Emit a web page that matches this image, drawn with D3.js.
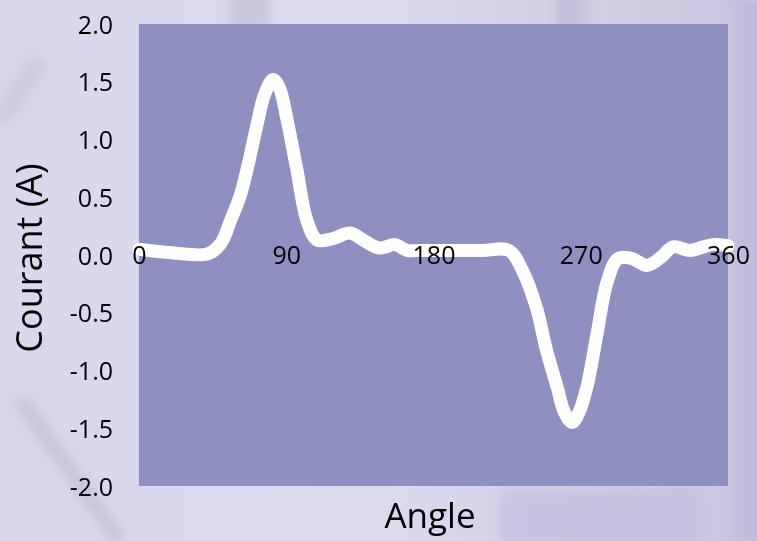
<!DOCTYPE html>
<html>
<head>
<meta charset="utf-8">
<script src="https://cdn.jsdelivr.net/npm/d3@7"></script>
<style>
  body { margin: 0; background: #d6d4e9; }
  text { font-family: "Open Sans", "DejaVu Sans", sans-serif; fill: #000; }
</style>
</head>
<body>
<script>
// angle (deg) and current (A)
var angles = [0, 20, 42, 50, 56, 62, 67, 72, 77, 82, 86, 90.5, 96.5, 102.6, 108.8, 118, 129, 138, 147, 156.5, 163.8, 172, 192, 210, 226, 234.6, 243, 249, 255.5, 260, 264.7, 269, 273.8, 280, 286, 292.8, 301, 310.5, 319, 326.5, 336.8, 345, 350.8, 360];
var courant = [0.05, 0.02, 0.01, 0.1, 0.3, 0.52, 0.8, 1.12, 1.4, 1.52, 1.44, 1.17, 0.74, 0.30, 0.13, 0.14, 0.19, 0.12, 0.06, 0.09, 0.04, 0.04, 0.04, 0.04, 0.04, -0.14, -0.46, -0.82, -1.14, -1.36, -1.45, -1.36, -1.14, -0.68, -0.24, -0.03, -0.03, -0.09, -0.02, 0.07, 0.04, 0.07, 0.09, 0.08];
var xTicks = [0, 90, 180, 270, 360];
var yTicks = [-2, -1.5, -1, -0.5, 0, 0.5, 1, 1.5, 2];

var W = 757, H = 541;
var margin = {left: 139, right: 29, top: 24, bottom: 55};

var svg = d3.select("body").append("svg")
    .attr("width", W)
    .attr("height", H);

// blurred photo-like backdrop
var defs = svg.append("defs");
defs.append("filter").attr("id", "blur")
    .append("feGaussianBlur").attr("stdDeviation", 6);
var grad = defs.append("linearGradient").attr("id", "bg")
    .attr("x1", 0).attr("x2", 1).attr("y1", 0).attr("y2", 0);
grad.append("stop").attr("offset", 0).attr("stop-color", "#d9d7ec");
grad.append("stop").attr("offset", 0.5).attr("stop-color", "#dcdaed");
grad.append("stop").attr("offset", 1).attr("stop-color", "#c9c5df");
svg.append("rect").attr("width", W).attr("height", H).attr("fill", "url(#bg)");

var bgShapes = svg.append("g").attr("filter", "url(#blur)");
bgShapes.append("rect").attr("x", 230).attr("y", -10).attr("width", 40).attr("height", 40).attr("fill", "#bdb9d6").attr("opacity", 0.6);
bgShapes.append("rect").attr("x", 555).attr("y", -10).attr("width", 30).attr("height", 40).attr("fill", "#b9b4d3").attr("opacity", 0.6);
bgShapes.append("rect").attr("x", 735).attr("y", 0).attr("width", 30).attr("height", 541).attr("fill", "#bcb6d4").attr("opacity", 0.7);
bgShapes.append("rect").attr("x", 500).attr("y", 490).attr("width", 200).attr("height", 60).attr("fill", "#c3bedb").attr("opacity", 0.7);
bgShapes.append("line").attr("x1", 20).attr("y1", 400).attr("x2", 120).attr("y2", 541)
    .attr("stroke", "#b8b4d0").attr("stroke-width", 14).attr("opacity", 0.6);
bgShapes.append("line").attr("x1", 0).attr("y1", 120).attr("x2", 40).attr("y2", 60)
    .attr("stroke", "#c0bcd8").attr("stroke-width", 18).attr("opacity", 0.5);

var x = d3.scaleLinear().domain([0, 360]).range([margin.left, W - margin.right]);
var y = d3.scaleLinear().domain([-2, 2]).range([H - margin.bottom, margin.top]);

// plot area
svg.append("rect")
    .attr("x", x(0)).attr("y", y(2))
    .attr("width", x(360) - x(0))
    .attr("height", y(-2) - y(2))
    .attr("fill", "#8f8fc2");

// y axis labels (plain hyphen for negatives)
var yAxis = d3.axisLeft(y).tickValues(yTicks).tickSize(0).tickPadding(26)
    .tickFormat(function (d) { return d.toFixed(1); });
var gy = svg.append("g").attr("transform", "translate(" + x(0) + ",0)").call(yAxis);
gy.select(".domain").remove();
gy.selectAll("text").style("font-size", "25px").attr("dy", "0.36em");

// data line
var pts = angles.map(function (a, i) { return [a, courant[i]]; });
var line = d3.line()
    .x(function (d) { return x(d[0]); })
    .y(function (d) { return y(d[1]); })
    .curve(d3.curveCatmullRom.alpha(0.5));

svg.append("path")
    .datum(pts)
    .attr("d", line)
    .attr("fill", "none")
    .attr("stroke", "#fff")
    .attr("stroke-width", 13)
    .attr("stroke-linejoin", "round")
    .attr("stroke-linecap", "round");

// x axis labels sit on the zero line
var xAxis = d3.axisBottom(x).tickValues(xTicks).tickSize(0).tickPadding(0)
    .tickFormat(d3.format("d"));
var gx = svg.append("g").attr("transform", "translate(0," + y(0) + ")").call(xAxis);
gx.select(".domain").remove();
gx.selectAll("text").style("font-size", "25px").attr("dy", "0.36em").attr("y", 0);

// axis titles
svg.append("text")
    .attr("x", 430).attr("y", 528)
    .attr("text-anchor", "middle")
    .style("font-size", "35px")
    .text("Angle");

svg.append("text")
    .attr("transform", "translate(42,258) rotate(-90)")
    .attr("text-anchor", "middle")
    .style("font-size", "36px")
    .text("Courant (A)");
</script>
</body>
</html>
